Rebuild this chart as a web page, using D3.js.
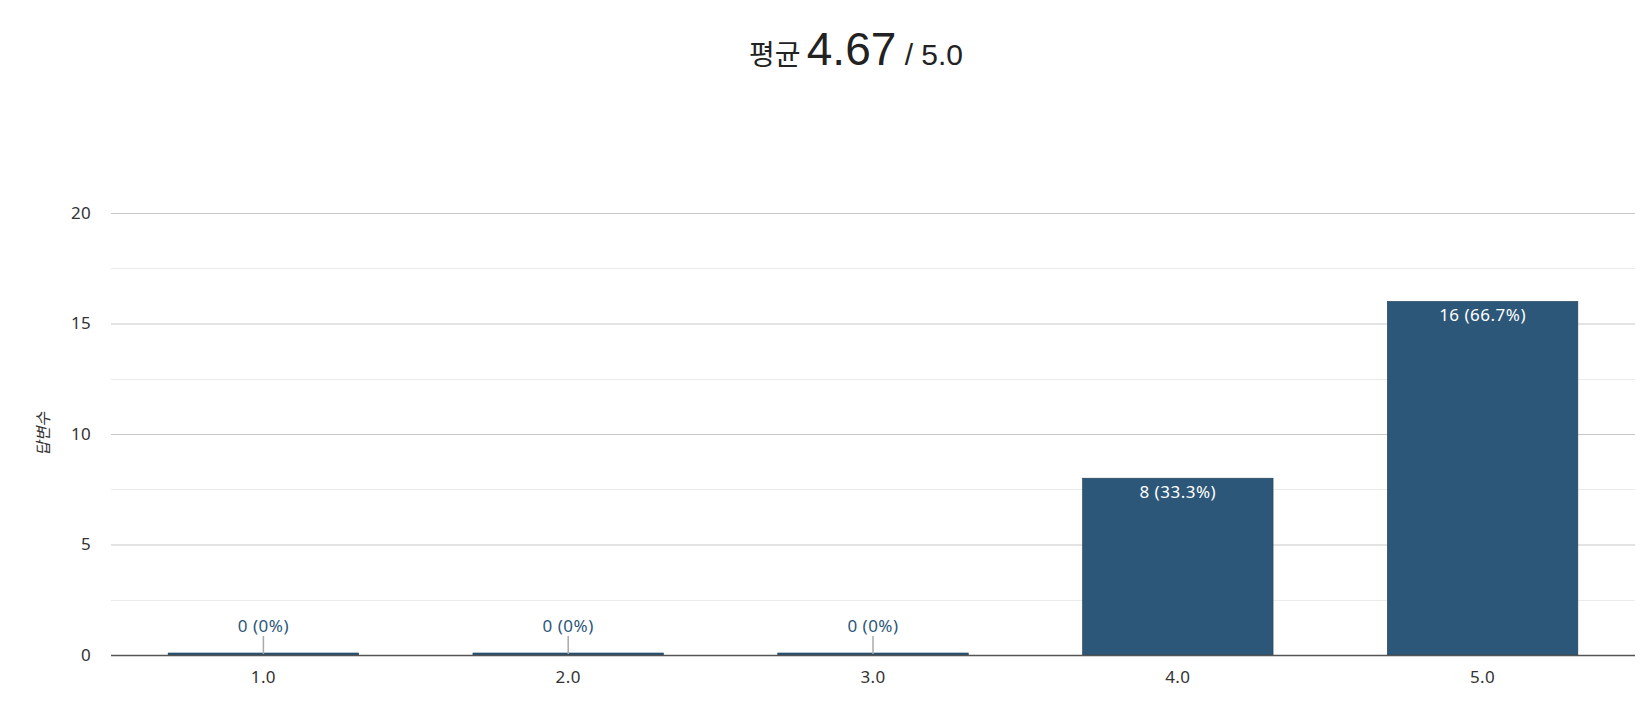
<!DOCTYPE html>
<html><head><meta charset="utf-8">
<script src="https://cdn.jsdelivr.net/npm/d3@7/dist/d3.min.js"></script>
<style>
body{margin:0;background:#fff;}
svg{display:block;font-family:"Noto Sans","Noto Sans CJK KR",sans-serif;}
</style></head><body>
<svg id="c" width="1644" height="706"></svg>
<script>
const categories = ["1.0","2.0","3.0","4.0","5.0"];
const counts = [0,0,0,8,16];
const percents = ["0%","0%","0%","33.3%","66.7%"];
const yTicks = [0,5,10,15,20];
const yMinorTicks = [2.5,7.5,12.5,17.5];
const meanValue = "4.67";
const maxScore = "5.0";
const yLabel = "답변수";

const svg = d3.select("#c");
const m = {left:111, right:1635, top:213, bottom:655};
const x = d3.scaleBand().domain(categories).range([m.left, m.right]).paddingInner(0.375).paddingOuter(0.1875);
const y = d3.scaleLinear().domain([0,20]).range([m.bottom, m.top]);
const barColor = "#2c5779";

// Title
const title = svg.append("text").attr("x",856).attr("y",65).attr("text-anchor","middle")
  .attr("fill","#222").style("font-family","'Liberation Sans','Noto Sans CJK KR',sans-serif");
title.append("tspan").attr("font-size",28).style("font-family","'Noto Sans CJK KR',sans-serif").text("평균 ");
title.append("tspan").attr("font-size",46).text(meanValue);
title.append("tspan").attr("font-size",30).text(" / " + maxScore);

// minor grid
svg.append("g").selectAll("line").data(yMinorTicks).join("line")
  .attr("x1",m.left).attr("x2",m.right).attr("y1",d=>Math.round(y(d))+0.5).attr("y2",d=>Math.round(y(d))+0.5)
  .attr("stroke","#ebebeb");
// major grid + labels
const yAxis = d3.axisLeft(y).tickValues(yTicks).tickSize(-(m.right-m.left)).tickPadding(20).tickFormat(d3.format("d"));
const ga = svg.append("g").attr("transform",`translate(${m.left},0)`).call(yAxis);
ga.select(".domain").remove();
ga.selectAll(".tick line").attr("stroke","#c8c8c8");
ga.selectAll(".tick text").attr("fill","#333").attr("font-size",17).attr("letter-spacing",0.3).attr("font-family","'Noto Sans',sans-serif");

// y label
svg.append("text").attr("transform","translate(49,434) rotate(-90)").attr("text-anchor","middle")
  .attr("font-size",16).attr("font-style","italic").attr("fill","#333").style("font-family","'Noto Sans CJK KR',sans-serif").text(yLabel);

const data = categories.map((c,i)=>({c, v:counts[i], p:percents[i]}));

// bars
svg.append("g").selectAll("rect").data(data).join("rect")
  .attr("x",d=>x(d.c)).attr("width",x.bandwidth())
  .attr("y",d=> d.v>0 ? y(d.v) : y(0)-2)
  .attr("height",d=> d.v>0 ? y(0)-y(d.v) : 2)
  .attr("fill",barColor).attr("stroke","#1f3f59").attr("stroke-width",0.6);

// baseline axis
svg.append("line").attr("x1",m.left).attr("x2",m.right).attr("y1",y(0)+0.5).attr("y2",y(0)+0.5)
  .attr("stroke","#555").attr("stroke-width",1.5);

// x labels
const xAxis = d3.axisBottom(x).tickSize(0).tickPadding(16);
const gx = svg.append("g").attr("transform",`translate(0,${m.bottom})`).call(xAxis);
gx.select(".domain").remove();
gx.selectAll(".tick text").attr("fill","#333").attr("font-size",17).attr("letter-spacing",0.4).attr("font-family","'Noto Sans',sans-serif");

// labels inside bars
svg.append("g").selectAll("text").data(data.filter(d=>d.v>0)).join("text")
  .attr("x",d=>x(d.c)+x.bandwidth()/2).attr("y",d=>y(d.v)+20)
  .attr("text-anchor","middle").attr("fill","#fff").attr("font-size",17).attr("letter-spacing",0.5)
  .text(d=>`${d.v} (${d.p})`);

// zero labels with leader
const zero = data.filter(d=>d.v===0);
svg.append("g").selectAll("line").data(zero).join("line")
  .attr("x1",d=>x(d.c)+x.bandwidth()/2).attr("x2",d=>x(d.c)+x.bandwidth()/2)
  .attr("y1",y(0)-19).attr("y2",y(0)-1).attr("stroke","#aaa").attr("stroke-width",1.5);
svg.append("g").selectAll("text").data(zero).join("text")
  .attr("x",d=>x(d.c)+x.bandwidth()/2).attr("y",y(0)-23)
  .attr("text-anchor","middle").attr("fill",barColor).attr("font-size",17).attr("letter-spacing",0.5)
  .text(d=>`${d.v} (${d.p})`);
</script></body></html>
